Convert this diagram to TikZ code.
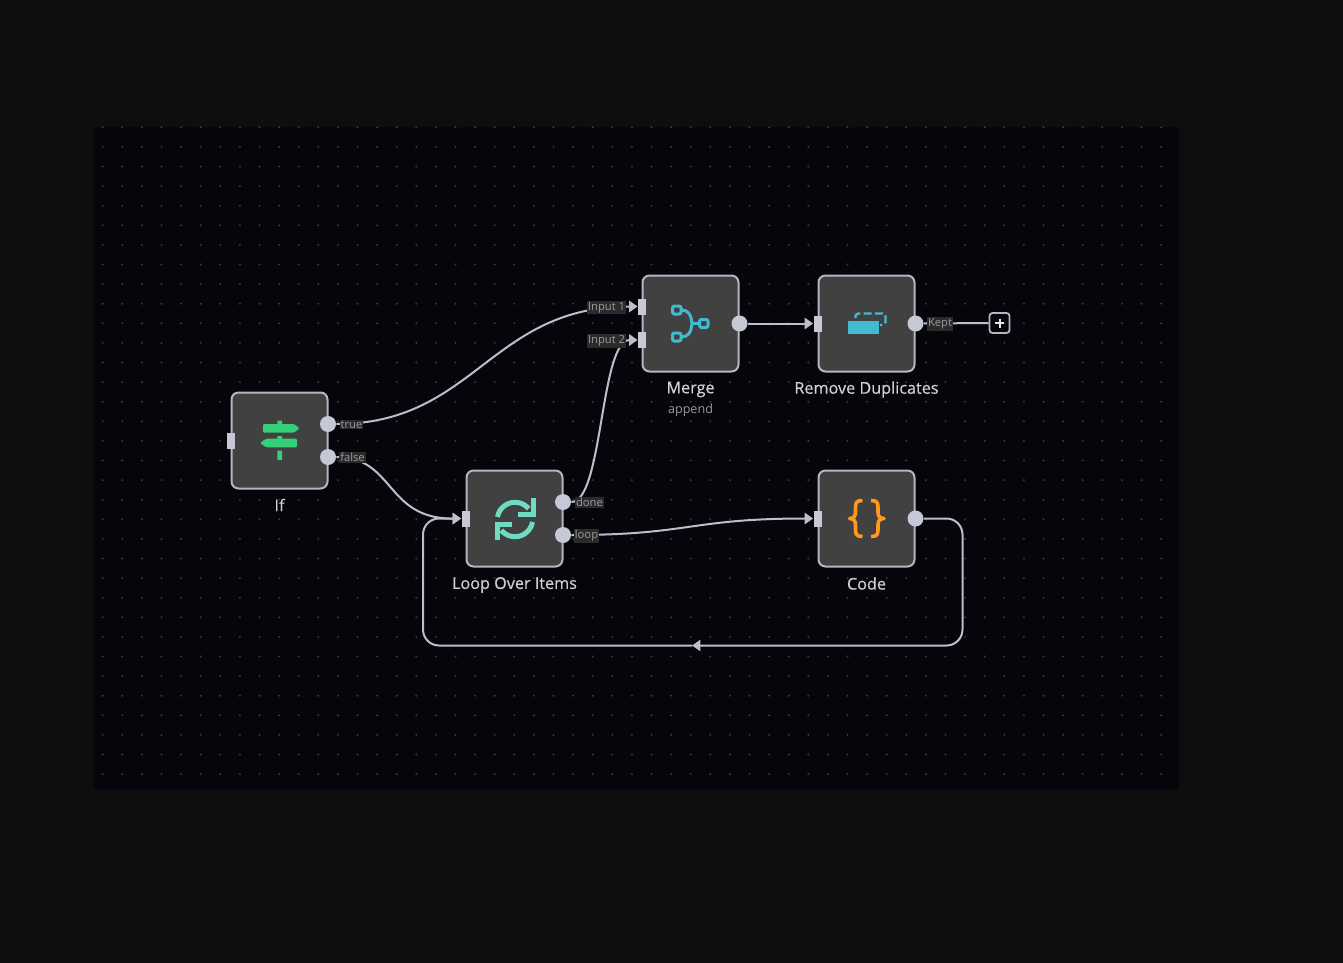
\documentclass[tikz,border=0pt]{standalone}
\usepackage{fontspec}
\setmainfont{Open Sans}
\newfontfamily\captionfont[FakeBold=0.4]{Open Sans}
\usetikzlibrary{arrows.meta,shapes}

\definecolor{pagebg}{HTML}{0E0E0F}
\definecolor{canvasbg}{HTML}{06050C}
\definecolor{griddot}{HTML}{3A3A3E}
\definecolor{boxfill}{HTML}{414141}
\definecolor{boxline}{HTML}{B4B6C0}
\definecolor{portfill}{HTML}{C6C8D6}
\definecolor{wire}{HTML}{BDBEC8}
\definecolor{tagfill}{HTML}{2B2B2B}
\definecolor{tagtext}{HTML}{9A9A9A}
\definecolor{signgreen}{HTML}{35CF78}
\definecolor{loopteal}{HTML}{6FDCC2}
\definecolor{mergeblue}{HTML}{42BBD0}
\definecolor{codeorange}{HTML}{FF9A1F}

\begin{document}
\begin{tikzpicture}[>={Triangle[length=4.2pt,width=5.6pt]}, x=0.5pt, y=-0.5pt, font=\captionfont\fontsize{8.1}{10}\selectfont]

  \tikzstyle{box}=[draw=boxline, fill=boxfill, line width=1pt,
    rounded corners=3.5pt, minimum size=48pt, inner sep=0]
  \tikzstyle{outport}=[circle, fill=portfill, minimum size=8pt, inner sep=0]
  \tikzstyle{inport}=[rectangle, fill=portfill, minimum width=4pt, minimum height=8pt, inner sep=0]
  \tikzstyle{tag}=[fill=tagfill, text=tagtext, inner xsep=0.5pt, inner ysep=0.6pt,
    font=\rmfamily\fontsize{5.6}{6}\selectfont]
  \tikzstyle{caption}=[text=white!82!black]
  \tikzstyle{wireline}=[draw=wire, line width=1pt]

  % page and canvas
  \useasboundingbox (0,0) rectangle (1343,963);
  \fill [pagebg] (0,0) rectangle (1343,963);
  \fill [canvasbg] (94,127) rectangle (1179,789);
  \foreach \i in {0,...,54}
    \foreach \j in {0,...,33}
      \fill [griddot] ({102.7+19.6*\i},{127.3+19.6*\j}) circle (1.1);

  % boxes
  \node [box] (if) at (279.5,440.5) {};
  \node [box] (loopitems) at (514.5,518.5) {};
  \node [box] (merge) at (690.5,323.5) {};
  \node [box] (dedup) at (866.5,323.5) {};
  \node [box] (code) at (866.5,518.5) {};

  % ports
  \node [inport] (ifin) at (if.west) {};
  \node [outport] (iftrue) at (328,424) {};
  \node [outport] (iffalse) at (328,457) {};
  \node [inport] (loopin) at (loopitems.west) {};
  \node [outport] (loopdone) at (563,502) {};
  \node [outport] (loopnext) at (563,535) {};
  \node [inport] (mergein1) at (642,306.5) {};
  \node [inport] (mergein2) at (642,340) {};
  \node [outport] (mergeout) at (merge.east) {};
  \node [inport] (dedupin) at (dedup.west) {};
  \node [outport] (dedupout) at (dedup.east) {};
  \node [inport] (codein) at (code.west) {};
  \node [outport] (codeout) at (code.east) {};
  \node [draw=boxline, line width=0.9pt, rounded corners=1.5pt, minimum size=10pt, inner sep=0] (plus) at (999.5,323) {};
  \draw [white!90!black, line width=1pt] (995,323) -- (1004,323) (999.5,318.5) -- (999.5,327.5);

  % wires
  \coordinate (backmid) at (692,645.5);
  \draw [wireline, ->] (iftrue.east) .. controls (475,424) and (490,306.5) .. (mergein1.west);
  \draw [wireline, ->] (iffalse.east) .. controls (395,457) and (385,519) .. (loopin.west);
  \draw [wireline, ->] (loopdone.east) .. controls (603,502) and (600,340) .. (mergein2.west);
  \draw [wireline, ->] (loopnext.east) .. controls (690,535) and (690,518.5) .. (codein.west);
  \draw [wireline, ->] (mergeout.east) -- (dedupin.west);
  \draw [wireline] (dedupout.east) -- (plus.west);
  \draw [wireline, ->, rounded corners=8pt] (codeout.east) -- (962.5,518.5) -- (962.5,645.5) -- (backmid);
  \draw [wireline, ->, rounded corners=8pt] (backmid) -- (423,645.5) -- (423,518.5) -- (loopin.west);

  % connector labels
  \node [tag] (tagtrue) at (351.5,424.5) {true};
  \node [tag] (tagfalse) at (352.5,457.5) {false};
  \node [tag] (tagdone) at (589.5,502.5) {done};
  \node [tag] (tagloop) at (586.5,536) {loop};
  \node [tag] (tagin1) at (606.5,307.5) {Input 1};
  \node [tag] (tagin2) at (606.5,341) {Input 2};
  \node [tag] (tagkept) at (940,324) {Kept};

  % captions
  \node [caption] (ifname) at (279.5,505) {If};
  \node [caption] (loopname) at (514.5,585) {Loop Over Items};
  \node [caption] (mergename) at (690.5,389.5) {Merge};
  \node [text=tagtext, font=\rmfamily\fontsize{6.3}{8}\selectfont] (mergesub) at (690.5,410.5) {append};
  \node [caption] (dedupname) at (866.5,389.5) {Remove Duplicates};
  \node [caption] (codename) at (866.5,583.5) {Code};

  % icon: signpost
  \fill [signgreen, rounded corners=0.6pt] (263,424) -- (294,424) -- (299.5,428.3) -- (294,432.7) -- (263,432.7) -- cycle;
  \fill [signgreen, rounded corners=0.6pt] (297,438.7) -- (266,438.7) -- (260,443) -- (266,447.3) -- (297,447.3) -- cycle;
  \fill [signgreen] (277.3,420.5) rectangle (282,424) (277.3,436) rectangle (282,439) (277.3,450.5) rectangle (282,460);

  % icon: loop
  \draw [loopteal, line width=2.5pt] (497.5,517) arc (170:40:8.9pt);
  \draw [loopteal, line width=2.5pt] (532.5,522) arc (-10:-140:8.9pt);
  \draw [loopteal, line width=2.5pt, line join=miter] (533,498) -- (533,514.5) -- (518,514.5);
  \draw [loopteal, line width=2.5pt, line join=miter] (497,540) -- (497,524.5) -- (512,524.5);

  % icon: merge
  \draw [mergeblue, line width=1.5pt, rounded corners=1pt] (672.5,306) rectangle (681,314);
  \draw [mergeblue, line width=1.5pt, rounded corners=1pt] (672.5,333) rectangle (681,341);
  \draw [mergeblue, line width=1.5pt, rounded corners=1pt] (699.5,319.5) rectangle (708,327.5);
  \draw [mergeblue, line width=1.5pt] (681,310) .. controls (688,310) and (691,314) .. (692,323.5);
  \draw [mergeblue, line width=1.5pt] (681,337) .. controls (688,337) and (691,333) .. (692,323.5);
  \draw [mergeblue, line width=1.5pt] (692,323.5) -- (699.5,323.5);

  % icon: remove duplicates
  \fill [mergeblue] (847.5,320.5) rectangle (878.5,334);
  \draw [mergeblue, line width=1.2pt, dash pattern=on 4pt off 1.6pt, rounded corners=1.5pt] (855.5,318) -- (855.5,313.5) -- (885.5,313.5) -- (885.5,325) -- (880,325);

  % icon: code
  \draw [codeorange, line width=1.8pt, line join=round] (862.5,500.5) .. controls (856,500.5) and (855.5,503) .. (855.5,508)
    -- (855.5,512) .. controls (855.5,516) and (854,518.5) .. (849.5,518.5)
    .. controls (854,518.5) and (855.5,521) .. (855.5,525) -- (855.5,529)
    .. controls (855.5,534) and (856,536.5) .. (862.5,536.5);
  \draw [codeorange, line width=1.8pt, line join=round] (871,500.5) .. controls (877.5,500.5) and (878,503) .. (878,508)
    -- (878,512) .. controls (878,516) and (879.5,518.5) .. (884,518.5)
    .. controls (879.5,518.5) and (878,521) .. (878,525) -- (878,529)
    .. controls (878,534) and (877.5,536.5) .. (871,536.5);

\end{tikzpicture}
\end{document}
